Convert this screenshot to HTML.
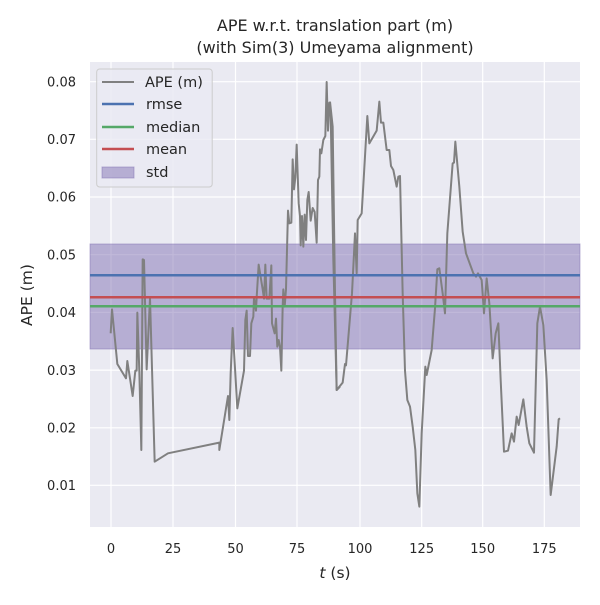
<!DOCTYPE html>
<html><head><style>body{margin:0;background:#fff}</style></head><body>
<svg width="600" height="600" xmlns="http://www.w3.org/2000/svg" font-family="DejaVu Sans, sans-serif">
<rect x="0" y="0" width="600" height="600" fill="#fff"/>
<rect x="90" y="62" width="490" height="465" fill="#eaeaf2"/>
<g stroke="#fff" stroke-width="1.2">
<line x1="111" y1="62" x2="111" y2="527"/><line x1="173" y1="62" x2="173" y2="527"/><line x1="235.5" y1="62" x2="235.5" y2="527"/><line x1="297" y1="62" x2="297" y2="527"/><line x1="360" y1="62" x2="360" y2="527"/><line x1="421.7" y1="62" x2="421.7" y2="527"/><line x1="482.7" y1="62" x2="482.7" y2="527"/><line x1="544.3" y1="62" x2="544.3" y2="527"/>
<line x1="90" y1="81.7" x2="580" y2="81.7"/><line x1="90" y1="139.3" x2="580" y2="139.3"/><line x1="90" y1="197" x2="580" y2="197"/><line x1="90" y1="254.7" x2="580" y2="254.7"/><line x1="90" y1="312.4" x2="580" y2="312.4"/><line x1="90" y1="370.1" x2="580" y2="370.1"/><line x1="90" y1="427.8" x2="580" y2="427.8"/><line x1="90" y1="485.3" x2="580" y2="485.3"/>
</g>
<rect x="90" y="244" width="490" height="105" fill="#8172b3" fill-opacity="0.5" stroke="#8172b3" stroke-opacity="0.5"/>
<g fill="none" stroke="#808080" stroke-width="6" stroke-linejoin="round">
<polyline transform="translate(90,60) scale(0.33333)" points="62,820 66,748 82,912 108,955 112,903 128,1008 136,932 140,932 142,758 148,935 154,1170 158,598 162,600 170,928 180,714 194,1205 234,1180 388,1148 388,1170 414,1008 418,1080 422,940 428,804 442,1045 462,932 466,780 470,752 474,888 480,888 484,790 490,770 492,712 498,752 500,712 506,614 518,688 522,716 526,614 530,716 538,716 544,616 546,790 554,820 558,776 562,860 566,840 570,860 574,932 578,740 580,688 584,740 588,688 594,452 598,490 604,488 608,298 612,388 616,352 620,254 626,430 630,468 632,556 636,468 640,560 644,464 648,540 652,420 656,396 662,482 668,444 674,456 680,548 684,360 688,350 690,268 694,280 700,240 706,228 710,66 714,212 718,128 722,160 730,600 740,990 750,980"/>
<polyline transform="translate(330,60) scale(0.33333)" points="0,125 8,200 15,700 20,990 38,968 45,912 48,916 66,700 75,520 80,640 83,480 95,460 100,375 112,168 118,250 140,212 148,125 153,188 160,188 170,270 178,270 183,318 190,330 200,380 205,350 210,348 218,700 225,932 232,1020 240,1040 248,1100 256,1170 262,1300 268,1340 275,1120 286,920 290,945 305,870 315,745 322,628 328,625 338,700 345,760 352,520 368,310 372,308 376,245 388,380 398,515 408,580 430,640 438,650 444,640 455,660 462,760 470,655 478,730 488,895 497,820 505,790 512,960 522,1175 534,1172 545,1120 552,1145 560,1070 566,1095 580,1018 590,1100 598,1150 612,1178 622,790 630,740 640,795 650,960 662,1305 680,1160 686,1078 690,1075"/>
</g>
<line x1="90" y1="275.3" x2="580" y2="275.3" stroke="#4c72b0" stroke-width="2.5"/>
<line x1="90" y1="297.3" x2="580" y2="297.3" stroke="#c44e52" stroke-width="2.5"/>
<line x1="90" y1="306.3" x2="580" y2="306.3" stroke="#55a868" stroke-width="2.5"/>
<g font-size="13" fill="#262626">
<g text-anchor="end">
<text x="76" y="86.5">0.08</text><text x="76" y="144">0.07</text><text x="76" y="201.7">0.06</text><text x="76" y="259.4">0.05</text><text x="76" y="317.1">0.04</text><text x="76" y="374.8">0.03</text><text x="76" y="432.5">0.02</text><text x="76" y="490">0.01</text>
</g>
<g text-anchor="middle">
<text x="111" y="553">0</text><text x="173" y="553">25</text><text x="235.5" y="553">50</text><text x="297" y="553">75</text><text x="360" y="553">100</text><text x="421.7" y="553">125</text><text x="482.7" y="553">150</text><text x="544.3" y="553">175</text>
<text x="335" y="578" font-size="15.5"><tspan font-style="italic">t</tspan> (s)</text>
<text transform="translate(32,295) rotate(-90)" font-size="15.5">APE (m)</text>
<text x="335" y="31" font-size="16">APE w.r.t. translation part (m)</text>
<text x="335" y="53" font-size="16">(with Sim(3) Umeyama alignment)</text>
</g>
</g>
<rect x="96.7" y="69" width="115.5" height="118" rx="3" fill="#eaeaf2" fill-opacity="0.8" stroke="#cccccc"/>
<line x1="102" y1="82" x2="134" y2="82" stroke="#808080" stroke-width="2"/>
<line x1="102" y1="104" x2="134" y2="104" stroke="#4c72b0" stroke-width="2.5"/>
<line x1="102" y1="127" x2="134" y2="127" stroke="#55a868" stroke-width="2.5"/>
<line x1="102" y1="149" x2="134" y2="149" stroke="#c44e52" stroke-width="2.5"/>
<rect x="102" y="167" width="32" height="11" fill="#8172b3" fill-opacity="0.5" stroke="#8172b3" stroke-opacity="0.5"/>
<g font-size="14.5" fill="#262626">
<text x="145" y="87">APE (m)</text><text x="146" y="109">rmse</text><text x="146" y="132">median</text><text x="146" y="154">mean</text><text x="146" y="177">std</text>
</g>
</svg>
</body></html>
